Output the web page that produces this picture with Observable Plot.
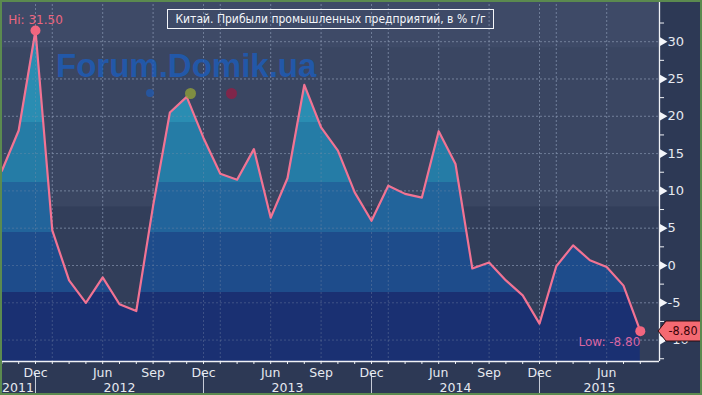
<!DOCTYPE html>
<html><head><meta charset="utf-8">
<script src="https://cdn.jsdelivr.net/npm/d3@7"></script>
<script src="https://cdn.jsdelivr.net/npm/@observablehq/plot@0.6"></script>
<style>
html,body{margin:0;padding:0;background:#2d3955;}
#wrap{position:relative;width:702px;height:395px;overflow:hidden;font-family:"DejaVu Sans",sans-serif;}
#wrap svg{display:block;}
.ov{position:absolute;pointer-events:none;}
#border{left:0;top:0;width:698px;height:391px;border:2px solid #5b8a4f;}
#title{left:167px;top:9px;width:325px;height:18px;border:1px solid #f4f6fa;color:#f4f6fa;font-family:"DejaVu Sans Condensed","DejaVu Sans",sans-serif;font-size:12px;line-height:18px;text-align:center;white-space:nowrap;overflow:hidden;}
#wm{left:56px;top:47px;color:#1a5fc4;opacity:0.72;font:bold 33px "Liberation Sans",Arial,sans-serif;white-space:nowrap;}
.wd{border-radius:50%;}
</style></head><body><div id="wrap"></div>
<script>
// ---- data ----
const periods = ["2011-10","2011-11","2011-12",
  "2012-03","2012-04","2012-05","2012-06","2012-07","2012-08","2012-09","2012-10","2012-11","2012-12",
  "2013-03","2013-04","2013-05","2013-06","2013-07","2013-08","2013-09","2013-10","2013-11","2013-12",
  "2014-03","2014-04","2014-05","2014-06","2014-07","2014-08","2014-09","2014-10","2014-11","2014-12",
  "2015-03","2015-04","2015-05","2015-06","2015-07","2015-08"];
const values = [12.7, 18.1, 31.5,
  4.7, -2.0, -5.0, -1.6, -5.2, -6.1, 8.0, 20.5, 22.6, 17.1,
  12.3, 11.5, 15.6, 6.4, 11.7, 24.2, 18.5, 15.4, 9.8, 6.0,
  10.7, 9.6, 9.1, 18.0, 13.6, -0.4, 0.4, -2.0, -4.0, -7.8,
  -0.1, 2.7, 0.7, -0.2, -2.7, -8.8];
const yTicks = [-10, -5, 0, 5, 10, 15, 20, 25, 30];
const yMinorTicks = [-12.5, -7.5, -2.5, 2.5, 7.5, 12.5, 17.5, 22.5, 27.5, 32.5];
const monthNames = {6: "Jun", 9: "Sep", 12: "Dec"};
const gridMonths = [3, 6, 9, 12];
const yearLabels = ["2011", "2012", "2013", "2014", "2015"];
const titleText = "Китай. Прибыли промышленных предприятий, в % г/г";
const watermark = "Forum.Domik.ua";
const areaBandLimits = [19.2, 11.1, 4.4, -3.6];
const bgBandLimits = [29.1, 7.8];

// ---- layout / style ----
const W = 702, H = 395;
const xDom = [-0.083, 39.143];
const yDom = [-12.87, 35.52];
const areaColors = ["#2a8db2", "#257ca6", "#22649b", "#1e4c8b", "#1a3072"];
const bgColors = ["#3e4a67", "#3a4662", "#323e5a"];
const lineColor = "#f27393";

const rows = periods.map((p, i) => ({i, year: p.slice(0, 4), month: +p.slice(5), value: values[i]}));
const hi = rows.reduce((a, b) => (b.value > a.value ? b : a));
const lo = rows[rows.length - 1];
const decRows = rows.filter(d => d.month === 12);
const monthRows = rows.filter(d => monthNames[d.month]);
const gridRows = rows.filter(d => gridMonths.includes(d.month));
const yearPos = yearLabels.map(y => {
  const prevDec = decRows.filter(d => +d.year === +y - 1)[0];
  const start = prevDec ? prevDec.i : xDom[0];
  const thisDec = decRows.filter(d => d.year === y)[0];
  const end = thisDec ? thisDec.i : xDom[1];
  return {year: y, x: (start + end) / 2};
});
const bgRows = [
  {lo: bgBandLimits[0], hi: yDom[1], c: bgColors[0]},
  {lo: bgBandLimits[1], hi: bgBandLimits[0], c: bgColors[1]},
  {lo: yDom[0], hi: bgBandLimits[1], c: bgColors[2]}
];

const plot = Plot.plot({
  width: W, height: H,
  marginLeft: 0, marginRight: 43, marginTop: 0, marginBottom: 34,
  style: {background: "#2d3955", fontFamily: "DejaVu Sans, sans-serif", overflow: "visible"},
  x: {domain: xDom, axis: null},
  y: {domain: yDom, axis: null},
  marks: [
    Plot.rect(bgRows, {x1: () => xDom[0], x2: () => xDom[1], y1: "lo", y2: "hi", fill: "c"}),
    Plot.gridY(yTicks, {stroke: "#8391ad", strokeOpacity: 0.55, strokeDasharray: "2,2"}),
    Plot.gridX(gridRows.map(d => d.i), {stroke: "#8391ad", strokeOpacity: 0.55, strokeDasharray: "2,2"}),
    Plot.areaY(rows, {x: "i", y1: () => yDom[0], y2: "value", fill: "url(#bandGrad)"}),
    Plot.gridY(yTicks, {stroke: "#8391ad", strokeOpacity: 0.35, strokeDasharray: "2,2"}),
    Plot.gridX(gridRows.map(d => d.i), {stroke: "#8391ad", strokeOpacity: 0.35, strokeDasharray: "2,2"}),
    Plot.lineY(rows, {x: "i", y: "value", stroke: lineColor, strokeWidth: 2.2}),
    Plot.dot([hi, lo], {x: "i", y: "value", r: 5, fill: "#f2667f"}),
    Plot.text([hi], {x: "i", y: "value", text: d => "Hi: " + d.value.toFixed(2), dy: -10, fill: "#ec6680", fontSize: 12}),
    Plot.text([lo], {x: "i", y: "value", text: d => "Low: " + d.value.toFixed(2), dy: 11, textAnchor: "end", fill: "#d866a2", fontSize: 12}),
    // right axis
    Plot.ruleX([xDom[1]], {stroke: "#f0f2f6", strokeWidth: 1.3}),
    Plot.ruleY(yMinorTicks, {x1: () => xDom[1], x2: () => xDom[1] + 0.3, stroke: "#f0f2f6"}),
    Plot.dot(yTicks, {y: d => d, frameAnchor: "right", symbol: "triangle", rotate: 90, r: 3.2, fill: "#f4f6fa", dx: 3}),
    Plot.text(yTicks, {y: d => d, text: d => String(d), frameAnchor: "right", textAnchor: "start", dx: 8, fill: "#e6e9f0", fontSize: 13}),
    // bottom axis
    Plot.ruleY([yDom[0]], {stroke: "#f0f2f6", strokeWidth: 1.3}),
    Plot.ruleX(rows, {x: "i", y1: () => yDom[0], y2: () => yDom[0] - 0.4, stroke: "#f0f2f6"}),
    Plot.ruleX(decRows, {x: "i", y1: () => yDom[0] - 1.6, y2: () => yDom[0] - 4.8, stroke: "#c9ced9"}),
    Plot.text(monthRows, {x: "i", y: () => yDom[0], text: d => monthNames[d.month], dy: 11, fill: "#e6e9f0", fontSize: 12.5}),
    Plot.text(yearPos, {x: "x", y: () => yDom[0], text: "year", dy: 26, fill: "#e6e9f0", fontSize: 12.5})
  ]
});

// banded gradient for the area, built from the y scale
const ys = plot.scale("y");
const svg = d3.select(plot);
const grad = svg.insert("defs", ":first-child").append("linearGradient")
  .attr("id", "bandGrad").attr("gradientUnits", "userSpaceOnUse")
  .attr("x1", 0).attr("x2", 0).attr("y1", 0).attr("y2", H);
const cuts = [0, ...areaBandLimits.map(v => ys.apply(v) / H), 1];
areaColors.forEach((c, k) => {
  grad.append("stop").attr("offset", cuts[k]).attr("stop-color", c);
  grad.append("stop").attr("offset", cuts[k + 1]).attr("stop-color", c);
});

const wrap = document.getElementById("wrap");
wrap.appendChild(plot);

// overlays: watermark, title box, last-value tag, border
const wm = document.createElement("div");
wm.className = "ov"; wm.id = "wm"; wm.textContent = watermark;
wrap.appendChild(wm);
[[150, 4, "#2358a8"], [190, 5.5, "#8c9a3c"], [231, 5.5, "#8c2146"]].forEach(([cx, r, c]) => {
  const d = document.createElement("div");
  d.className = "ov wd";
  Object.assign(d.style, {left: (cx - r) + "px", top: (93 - r) + "px", width: 2 * r + "px", height: 2 * r + "px", background: c, opacity: 0.85});
  wrap.appendChild(d);
});
const t = document.createElement("div");
t.className = "ov"; t.id = "title"; t.textContent = titleText;
wrap.appendChild(t);

const ty = ys.apply(lo.value);
const tag = document.createElementNS("http://www.w3.org/2000/svg", "svg");
tag.setAttribute("width", 46); tag.setAttribute("height", 22);
tag.setAttribute("class", "ov");
tag.style.left = "657px"; tag.style.top = (ty - 11) + "px";
tag.innerHTML = '<polygon points="1,11 9,1 45,1 45,21 9,21" fill="#f46a72" stroke="#2a0c10" stroke-width="1"/>' +
  '<text x="26" y="15" text-anchor="middle" font-family="DejaVu Sans Condensed, DejaVu Sans" font-size="12.5" fill="#3a0308">' + lo.value.toFixed(2) + '</text>';
wrap.appendChild(tag);

const b = document.createElement("div");
b.className = "ov"; b.id = "border";
wrap.appendChild(b);
</script></body></html>
